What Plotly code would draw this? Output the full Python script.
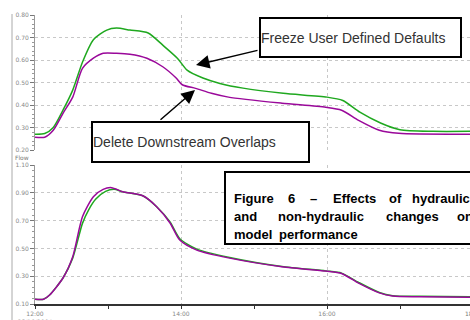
import plotly.graph_objects as go

DAY = "2004-10-28 "

# --- top panel: Freeze User Defined Defaults (green) / Delete Downstream Overlaps (purple)
top_green_t = ["12:00", "12:08", "12:15", "12:23", "12:31", "12:39", "12:48", "12:59", "13:07", "13:18",
               "13:33", "13:45", "13:57", "14:05", "14:18", "14:32", "14:51", "15:24", "16:00", "16:13",
               "16:27", "16:44", "17:00", "17:27", "17:58"]
top_green_v = [0.270, 0.273, 0.300, 0.377, 0.466, 0.590, 0.690, 0.733, 0.742, 0.733,
               0.720, 0.666, 0.608, 0.555, 0.520, 0.496, 0.475, 0.452, 0.435, 0.420,
               0.368, 0.320, 0.290, 0.283, 0.283]

top_purple_t = ["12:00", "12:08", "12:15", "12:23", "12:31", "12:39", "12:48", "12:56", "13:07", "13:18",
                "13:32", "13:45", "13:56", "14:01", "14:12", "14:25", "14:39", "15:23", "15:59", "16:12",
                "16:26", "16:43", "16:59", "17:58"]
top_purple_v = [0.257, 0.257, 0.288, 0.363, 0.435, 0.563, 0.608, 0.630, 0.630, 0.626,
                0.608, 0.570, 0.520, 0.490, 0.474, 0.452, 0.435, 0.408, 0.390, 0.377,
                0.332, 0.288, 0.274, 0.270]

# --- bottom panel
bot_green_t = ["12:00", "12:07", "12:12", "12:23", "12:31", "12:39", "12:44", "12:50", "12:58", "13:05",
               "13:12", "13:29", "13:40", "13:51", "13:59", "14:13", "14:40", "15:23", "15:59", "16:12",
               "16:26", "16:43", "16:54", "17:16", "17:58"]
bot_green_v = [0.134, 0.134, 0.165, 0.287, 0.430, 0.680, 0.776, 0.855, 0.910, 0.925,
               0.908, 0.877, 0.800, 0.690, 0.570, 0.495, 0.435, 0.370, 0.338, 0.322,
               0.255, 0.183, 0.160, 0.155, 0.152]

bot_purple_t = ["12:00", "12:07", "12:12", "12:23", "12:31", "12:39", "12:48", "12:56", "13:03", "13:12",
                "13:29", "13:40", "13:51", "13:59", "14:13", "14:40", "15:23", "15:59", "16:12", "16:26",
                "16:43", "16:54", "17:16", "17:58"]
bot_purple_v = [0.134, 0.134, 0.165, 0.287, 0.440, 0.728, 0.872, 0.925, 0.937, 0.908,
                0.877, 0.800, 0.683, 0.560, 0.488, 0.430, 0.368, 0.337, 0.320, 0.250,
                0.180, 0.157, 0.152, 0.148]

hour_ticks = ["12:00", "14:00", "16:00"]
hour_labels = ["12:00<br>28/10/2004", "14:00", "16:00"]
top_y_ticks = [0.20, 0.30, 0.40, 0.50, 0.60, 0.70, 0.80]
bot_y_ticks = [0.10, 0.30, 0.50, 0.70, 0.90, 1.10]

GREEN = "#1fa81f"
PURPLE = "#9a089a"
W, H = 470, 320


def px(x):
    return x / W


def py(y):
    return 1 - y / H


def ts(lst):
    return [DAY + t for t in lst]


fig = go.Figure()
fig.add_trace(go.Scatter(x=ts(top_green_t), y=top_green_v, mode="lines", xaxis="x", yaxis="y",
                         line=dict(color=GREEN, width=1.5, shape="spline", smoothing=0.7), showlegend=False))
fig.add_trace(go.Scatter(x=ts(top_purple_t), y=top_purple_v, mode="lines", xaxis="x", yaxis="y",
                         line=dict(color=PURPLE, width=1.5, shape="spline", smoothing=0.7), showlegend=False))
fig.add_trace(go.Scatter(x=ts(bot_green_t), y=bot_green_v, mode="lines", xaxis="x2", yaxis="y2",
                         line=dict(color=GREEN, width=1.5, shape="spline", smoothing=0.7), showlegend=False))
fig.add_trace(go.Scatter(x=ts(bot_purple_t), y=bot_purple_v, mode="lines", xaxis="x2", yaxis="y2",
                         line=dict(color=PURPLE, width=1.5, shape="spline", smoothing=0.7), showlegend=False))

xr = [DAY + "12:00", DAY + "17:57:32"]
tickfont = dict(family="DejaVu Sans", size=6, color="#888")
grid = dict(showgrid=True, gridcolor="#c8c8c8", griddash="dot", gridwidth=1)

fig.update_layout(
    width=W, height=H, margin=dict(l=0, r=0, t=0, b=0, autoexpand=False),
    paper_bgcolor="white", plot_bgcolor="white", hovermode=False,
    xaxis=dict(domain=[px(35), 1], range=xr, type="date", anchor="y", automargin=False,
               tickvals=ts(hour_ticks), showticklabels=False, ticks="", showline=False,
               zeroline=False, **grid),
    yaxis=dict(domain=[py(150), py(15)], range=[0.20, 0.80], anchor="x", automargin=False,
               tickvals=top_y_ticks, tickformat=".2f", ticks="outside", ticklen=4, tickcolor="#777",
               showline=True, linecolor="#999", linewidth=1, tickfont=tickfont, zeroline=False,
               minor=dict(dtick=0.02, tick0=0.2, ticks="outside", ticklen=2, tickcolor="#999", showgrid=False),
               **grid),
    xaxis2=dict(domain=[px(35), 1], range=xr, type="date", anchor="y2", automargin=False,
                tickvals=ts(hour_ticks), ticktext=hour_labels, ticks="outside", ticklen=3,
                tickcolor="#333", showline=True, linecolor="#333", linewidth=1.5,
                tickfont=tickfont, zeroline=False,
                minor=dict(dtick=3600000, ticks="outside", ticklen=3, tickcolor="#333", showgrid=False),
                **grid),
    yaxis2=dict(domain=[py(304), py(165)], range=[0.10, 1.10], anchor="x2", automargin=False,
                tickvals=bot_y_ticks, tickformat=".2f", ticks="outside", ticklen=4, tickcolor="#777",
                showline=True, linecolor="#999", linewidth=1, tickfont=tickfont, zeroline=False,
                minor=dict(dtick=0.04, tick0=0.1, ticks="outside", ticklen=2, tickcolor="#999", showgrid=False),
                **grid),
)

shapes = [
    dict(type="line", xref="paper", yref="paper", x0=px(12), x1=px(12), y0=py(14), y1=0,
         line=dict(color="#aaaaaa", width=1)),
    dict(type="rect", xref="paper", yref="paper", x0=px(225), x1=px(490), y0=py(244), y1=py(172),
         line=dict(color="black", width=2), fillcolor="white", layer="above"),
]
fig.update_layout(shapes=shapes)

ann = []
lab = dict(family="Liberation Sans, Arial", size=14, color="#333")
# arrows
ann.append(dict(xref="paper", yref="paper", x=px(196), y=py(65), ax=63, ay=-15, text="",
                showarrow=True, arrowhead=2, arrowsize=1.8, arrowwidth=1.5, arrowcolor="black",
                standoff=0, startstandoff=0))
ann.append(dict(xref="paper", yref="paper", x=px(195), y=py(90), ax=-36, ay=31, text="",
                showarrow=True, arrowhead=2, arrowsize=1.8, arrowwidth=1.5, arrowcolor="black",
                standoff=0, startstandoff=0))
# label boxes
ann.append(dict(xref="paper", yref="paper", x=px(259), y=py(17), xanchor="left", yanchor="top",
                text="Freeze User Defined Defaults", showarrow=False, font=lab, align="left",
                width=199, height=37, bgcolor="white", bordercolor="black", borderwidth=2, borderpad=0))
ann.append(dict(xref="paper", yref="paper", x=px(91), y=py(121), xanchor="left", yanchor="top",
                text="Delete Downstream Overlaps", showarrow=False, font=lab, align="left",
                width=215, height=38, bgcolor="white", bordercolor="black", borderwidth=2, borderpad=0))

# justified caption, one word at a time
cap_font = dict(family="Liberation Sans, Arial", size=13, color="black")
caption_lines = [
    (198, [("Figure", 232), ("6", 286), ("–", 308), ("Effects", 331), ("of", 387), ("hydraulic", 410)]),
    (216, [("and", 232), ("non-hydraulic", 276), ("changes", 384), ("on", 455)]),
    (234, [("model", 232), ("performance", 277)]),
]
for yy, words in caption_lines:
    for w, xx in words:
        ann.append(dict(xref="paper", yref="paper", x=px(xx), y=py(yy), xanchor="left", yanchor="middle",
                        text="<b>%s</b>" % w, showarrow=False, font=cap_font))

small = dict(family="DejaVu Sans", size=6, color="#777")
ann.append(dict(xref="paper", yref="paper", x=px(13), y=py(157), xanchor="left", yanchor="middle",
                text="Flow", showarrow=False, font=small))
ann.append(dict(xref="paper", yref="paper", x=px(473), y=py(308), xanchor="center", yanchor="top",
                text="18:00", showarrow=False, font=small))
fig.update_layout(annotations=ann)

fig.write_html("out.html", config={"displayModeBar": False},
               post_script="document.body.style.margin='0px';document.body.style.overflow='hidden';")
